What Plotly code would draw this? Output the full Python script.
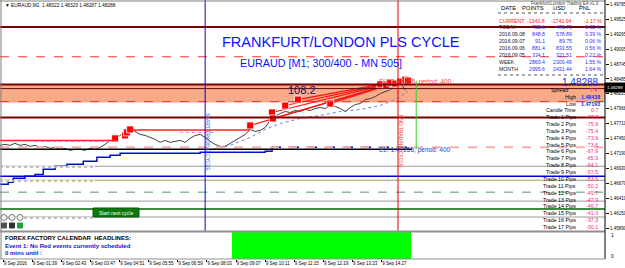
import plotly.graph_objects as go

W, H = 625, 268
def px(x): return x / W
def py(y): return 1 - y / H

# ---------------- data ----------------
close = [1.47329,1.47346,1.47329,1.47363,1.47329,1.47346,1.47311,1.47329,1.47294,1.47311,
         1.47277,1.47294,1.47259,1.47277,1.47242,1.47259,1.47259,1.47242,1.47277,1.47259,
         1.47294,1.47346,1.47415,1.47433,1.47502,1.47554,1.47623,1.47571,1.47519,1.47502,
         1.47467,1.47433,1.47381,1.47415,1.47381,1.47398,1.47415,1.47381,1.47450,1.47502,
         1.47519,1.47467,1.47398,1.47346,1.47311,1.47311,1.47363,1.47415,1.47467,1.47519,
         1.47606,1.47571,1.47589,1.47641,1.47762,1.47831,1.47883,1.47918,1.47901,1.47935,
         1.47918,1.47953,1.47935,1.47970,1.47987,1.47970,1.48022,1.48005,1.47970,1.47918,
         1.47987,1.48039,1.48057,1.48126,1.48143,1.48178,1.48230,1.48265,1.48299,1.48369,
         1.48421,1.48288]
bar_time = [28 + 11 * i for i in range(len(close))]   # minutes since 00:00

trade_time  = [281, 303, 307, 314, 578, 626, 628, 655, 683, 754, 864, 877, 886, 897, 908, 919, 925]
trade_price = [1.47450,1.47502,1.47554,1.47606,1.47675,1.47901,1.47797,1.48022,1.48126,1.48057,
               1.48390,1.48369,1.48421,1.48404,1.48438,1.48473,1.48455]
fan_first = 4
fan_end_time, fan_end_price = 919, 1.48473

ma_time  = [496, 534, 578, 611, 644, 688, 732, 776, 820, 864, 897, 925]
ma_price = [1.47259,1.47329,1.47467,1.47606,1.47710,1.47797,1.47849,1.47918,1.47953,1.48022,1.48126,1.48265]

step_time  = [28, 46, 57, 83, 105, 123, 149, 175, 211, 241, 270, 292, 468, 611, 626]
step_price = [1.46653,1.46687,1.46757,1.46791,1.46820,1.46913,1.46965,1.47000,1.47051,1.47121,
              1.47155,1.47190,1.47207,1.47225,1.47294]
step_dash_time = [626, 930]
step_dash_price = [1.47294, 1.47294]

hist_time = [538, 932]
hist_val = [1, 1]

# horizontal levels (price, colour, width, dash)
full_levels = [
    (1.49391, "#7a0000", 2, "solid"),
    (1.48871, "#ff3030", 1, "dash"),
    (1.48390, "#7a0000", 2, "solid"),
    (1.48317, "#5a1010", 1, "solid"),
    (1.48091, "#ff3030", 1, "dash"),
    (1.47814, "#7a0000", 2, "solid"),
    (1.47294, "#f6b0b0", 2, "dash"),
    (1.46791, "#0000d0", 1.5, "solid"),
    (1.46965, "#999999", 1, "solid"),
    (1.46722, "#999999", 1, "solid"),
    (1.46514, "#5a9a5a", 1, "dash"),
    (1.46358, "#999999", 1, "solid"),
    (1.46219, "#006400", 1.5, "solid"),
    (1.46081, "#999999", 1, "solid"),
]
band_low, band_high = 1.48074, 1.48390
seg_levels = [  # (t0, t1, price, colour, width, dash)
    (28, 281, 1.47415, "#ff2020", 1.5, "solid"),
    (314, 578, 1.47597, "#ff2020", 1.5, "solid"),
    (105, 270, 1.47398, "#e080e0", 1, "dot"),
    (424, 501, 1.47554, "#e080e0", 1, "dot"),
    (28, 934, 1.47259, "#000000", 1.5, "solid"),
]
vlines = [(479, "#0000e0"), (903, "#e00000")]
green_v = (943, 1.47259, 1.48455)

price_ticks = [1.45890,1.46150,1.46410,1.46670,1.46930,1.47190,1.47450,1.47710,1.47968,
               1.48225,1.48485,1.48745,1.49005,1.49265,1.49525,1.49785]
time_ticks = [35, 99, 163, 227, 291, 355, 419, 483, 547, 611, 675, 739, 803, 867]
time_labels = ["9 Sep 2016","9 Sep 01:39","9 Sep 02:43","9 Sep 03:47","9 Sep 04:51",
               "9 Sep 05:55","9 Sep 06:59","9 Sep 08:03","9 Sep 09:07","9 Sep 10:11",
               "9 Sep 11:15","9 Sep 12:19","9 Sep 13:23","9 Sep 14:27"]

pnl_dates  = ["CURRENT","TODAY","2016.09.08","2016.09.07","2016.09.06","2016.09.05","WEEK","MONTH"]
pnl_points = ["-1340.8","725.6","848.8","91.1","881.4","334.1","2860.4","2995.6"]
pnl_usd    = ["-1741.94","476.79","578.89","89.75","833.55","321.51","2300.49","2431.44"]
pnl_pct    = ["-1.17 %","0.32 %","0.39 %","0.06 %","0.56 %","0.22 %","1.55 %","1.64 %"]

trade_pips = ["-77.8","-75.9","-75.4","-73.9","-73.6","-67.9","-65.9","-64.1","-57.5",
              "-53.5","-50.2","-49.7","-47.9","-46.7","-41.3","-37.3","-30.1"]

# ---------------- figure ----------------
F = "Liberation Sans, Arial, sans-serif"
fig = go.Figure()

# orange band
fig.add_shape(type="rect", xref="x domain", yref="y", x0=0, x1=1, y0=band_low, y1=band_high,
              fillcolor="#f9aa88", line_width=0, layer="below")

for p, c, w, d in full_levels:
    fig.add_shape(type="line", xref="x domain", yref="y", x0=0, x1=1, y0=p, y1=p,
                  line=dict(color=c, width=w, dash=d))
for t0, t1, p, c, w, d in seg_levels:
    fig.add_shape(type="line", xref="x", yref="y", x0=t0, x1=t1, y0=p, y1=p,
                  line=dict(color=c, width=w, dash=d))
for t, c in vlines:
    fig.add_shape(type="line", xref="x", yref="paper", x0=t, x1=t, y0=py(231), y1=1,
                  line=dict(color=c, width=1))
fig.add_shape(type="line", xref="x", yref="y", x0=green_v[0], x1=green_v[0], y0=green_v[1], y1=green_v[2],
              line=dict(color="#30d030", width=1))

# stepped blue indicator
fig.add_trace(go.Scatter(x=step_time, y=step_price, mode="lines", line_shape="hv",
                         line=dict(color="#0010d0", width=1.5), hoverinfo="skip"))
fig.add_trace(go.Scatter(x=step_dash_time, y=step_dash_price, mode="lines",
                         line=dict(color="#0010d0", width=1.5, dash="dash"), hoverinfo="skip"))
# dotted MA
fig.add_trace(go.Scatter(x=ma_time, y=ma_price, mode="lines",
                         line=dict(color="#6080e0", width=1, dash="dot"), hoverinfo="skip"))
# price line
fig.add_trace(go.Scatter(x=bar_time, y=close, mode="lines",
                         line=dict(color="#404040", width=1), hoverinfo="skip"))
# fan lines
fx, fy = [], []
for t, p in zip(trade_time[fan_first:], trade_price[fan_first:]):
    fx += [t, fan_end_time, None]
    fy += [p, fan_end_price, None]
fig.add_trace(go.Scatter(x=fx, y=fy, mode="lines", line=dict(color="#ff1010", width=1.2),
                         hoverinfo="skip"))
fig.add_trace(go.Scatter(x=trade_time, y=trade_price, mode="markers",
                         marker=dict(symbol="square", size=7, color="#ff0000",
                                     line=dict(color="#ffffff", width=0.8)), hoverinfo="skip"))
# sub-window histogram
fig.add_trace(go.Scatter(x=hist_time, y=hist_val, mode="none", fill="tozeroy",
                         fillcolor="#00ff00", xaxis="x", yaxis="y2", hoverinfo="skip"))

# ---------------- decorations (pixel layout) ----------------
def rect(x0, y0, x1, y1, fill=None, line=None, lw=1):
    fig.add_shape(type="rect", xref="paper", yref="paper", x0=px(x0), x1=px(x1), y0=py(y1), y1=py(y0),
                  fillcolor=fill if fill else "rgba(0,0,0,0)", line=dict(color=line or "rgba(0,0,0,0)", width=lw))
def hline(x0, x1, y, color, w=1, dash="solid"):
    fig.add_shape(type="line", xref="paper", yref="paper", x0=px(x0), x1=px(x1), y0=py(y), y1=py(y),
                  line=dict(color=color, width=w, dash=dash))
def vline(x, y0, y1, color, w=1):
    fig.add_shape(type="line", xref="paper", yref="paper", x0=px(x), x1=px(x), y0=py(y0), y1=py(y1),
                  line=dict(color=color, width=w))

vline(1, 0, 259, "#808080")
hline(0, 605, 1, "#808080")
hline(0, 605, 231.5, "#909090", 2)
vline(605, 0, 259, "#000000")
hline(0, 605, 259, "#909090")
# dotted left parts of grey lines
for yy in (167, 181, 218):
    hline(0, 95, yy, "#ffffff", 1.5)
    hline(0, 95, yy, "#888888", 1, "dot")
# table separators
hline(498, 604, 13, "#555555", 1, "dot")
hline(498, 604, 75, "#555555", 1, "dot")
# start button
rect(93, 208, 139, 217, fill="#0b7a0b", line="#0b5a0b")
# circles and icons
for cx in (4, 12, 20):
    fig.add_shape(type="circle", xref="paper", yref="paper", x0=px(cx - 3), x1=px(cx + 3),
                  y0=py(220.5), y1=py(214.5), line=dict(color="#808080", width=1), fillcolor="#f0f0f0")
for cx, col in ((4, "#505050"), (12, "#303030"), (20, "#20a040")):
    rect(cx - 2.5, 223, cx + 2.5, 228, fill=col, line=col)
# price box
rect(605, 83, 625, 92, fill="#000000", line="#000000")

ann = []
def T(x, y, text, size=5.5, color="#000000", xa="left", bold=False, angle=0, fam=F):
    if bold:
        text = "<b>" + text + "</b>"
    ann.append(dict(x=px(x), y=py(y), xref="paper", yref="paper", text=text, showarrow=False,
                    xanchor=xa, yanchor="middle", textangle=angle,
                    font=dict(family=fam, size=size, color=color)))

T(3, 5, "▼ EURAUD,M1  1.48322 1.48323 1.48287 1.48288", 4.8)
T(341, 42, "FRANKFURT/LONDON PLS CYCLE", 14.5, "#0a14ff", "center")
T(321, 63, "EURAUD [M1; 300/400 - MN 505]", 10.8, "#0a14ff", "center")
T(302, 90, "108.2", 11, "#101070", "center")
T(377, 150, "EL: 1.47255, period: 400", 6.5, "#2040d0")
T(377, 82, "EH: 1.48455, period: 400", 6.5, "#ff4040")
T(208, 142, "START TRADING CYCLE", 5, "#4060e0", "center", angle=90)
T(401, 142, "END TRADING CYCLE", 5, "#ff3030", "center", angle=90)

# PnL table
T(499, 7.5, "DATE", 5.8)
T(546, 7.5, "POINTS", 5.8, xa="right")
T(567, 7.5, "USD", 5.8, xa="right")
T(593, 7.5, "PNL", 5.8, xa="right")
T(565, 3.5, "Frankfurt/London Trading EA v1.0", 4.5, "#404040", "center")
row_y = [21, 27, 34, 41, 48, 55, 62, 69]
for i, yy in enumerate(row_y):
    cl = "#ff2020" if i == 0 else "#3030ff"
    lab = "#ff2020" if i == 0 else "#202020"
    T(497, yy, pnl_dates[i], 5.2, lab)
    T(547, yy, pnl_points[i], 5.2, cl, "right")
    T(574, yy, pnl_usd[i], 5.2, cl, "right")
    T(604, yy, pnl_pct[i], 5.2, cl, "right")
T(601, 82, "1.48288", 10, "#1530ff", "right")
T(570, 90, "Spread", 5.3, xa="right")
T(599, 90, "7.4", 5.3, "#ff2090", "right")
T(578, 97, "High", 5.3, xa="right")
T(602, 97, "1.48438", 5.3, "#1530ff", "right", bold=True)
T(578, 103.5, "Low", 5.3, xa="right")
T(602, 103.5, "1.47193", 5.3, "#1530ff", "right", bold=True)
T(578, 110, "Candle Time", 5.3, xa="right")
T(600, 110, "0:7", 5.3, "#ff2090", "right")
for n, v in enumerate(trade_pips):
    yy = 117 + 6.875 * n
    T(578, yy, "Trade %d Pips" % (n + 1), 5.3, xa="right")
    T(600, yy, v, 5.3, "#ff2090", "right")
T(615, 87.5, "1.48288", 4.3, "#ffffff", "center")
T(609, 235, "1", 5, xa="left")
T(609, 256, "0", 5, xa="left")
T(116, 212.5, "Start next cycle", 5, "#ffffff", "center")
T(3, 238, "FOREX FACTORY CALENDAR  HEADLINES:", 6, "#000000", bold=True)
T(3, 245.5, "Event 1: No Red events currently scheduled", 6, "#1010e0", bold=True)
T(3, 252.5, "0 mins until :", 6, "#1010e0", bold=True)

fig.update_layout(
    width=W, height=H, margin=dict(l=0, r=0, t=0, b=0, autoexpand=False),
    paper_bgcolor="#ffffff", plot_bgcolor="#ffffff", showlegend=False,
    annotations=ann,
    xaxis=dict(domain=[0, 605 / W], range=[28, 1358], anchor="y2", showgrid=False, zeroline=False,
               tickvals=time_ticks, ticktext=time_labels, ticks="outside", ticklen=2,
               tickcolor="#000000", ticklabelposition="outside right", tickangle=0,
               automargin=False,
               tickfont=dict(family=F, size=4.5, color="#000000"), showline=False),
    yaxis=dict(domain=[py(231), 1], range=[1.45838, 1.49859], side="right", anchor="x",
               showgrid=False, zeroline=False, tickvals=price_ticks, automargin=False,
               ticktext=["%.5f" % v for v in price_ticks], ticks="outside", ticklen=3,
               tickcolor="#000000", tickfont=dict(family=F, size=4.5, color="#000000")),
    yaxis2=dict(domain=[py(259), py(232)], range=[0, 1], side="right", anchor="x",
                showgrid=False, zeroline=False, showticklabels=False, automargin=False),
)
fig.write_html("out.html")
